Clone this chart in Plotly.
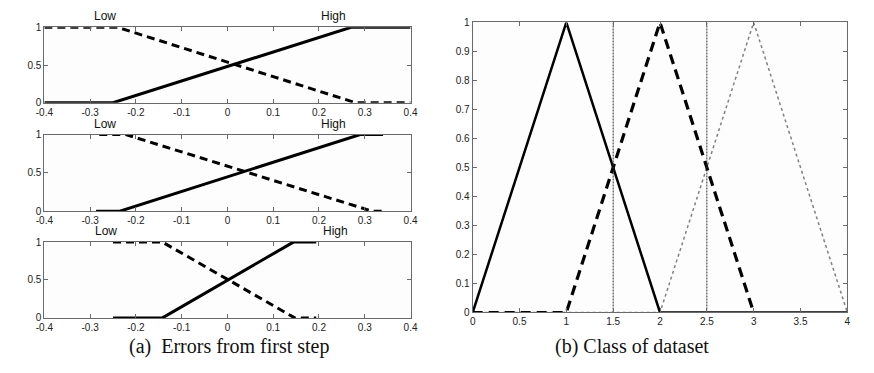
import plotly.graph_objects as go

# ---- (a) membership functions of the first-step errors (three variants) ----
p1_low_x = [-0.4, -0.24, 0.28, 0.4]
p1_low_y = [1, 1, 0, 0]
p1_high_x = [-0.4, -0.25, 0.27, 0.4]
p1_high_y = [0, 0, 1, 1]

p2_low_x = [-0.28, -0.222, 0.316, 0.34]
p2_low_y = [1, 1, 0, 0]
p2_high_x = [-0.287, -0.235, 0.29, 0.34]
p2_high_y = [0, 0, 1, 1]

p3_low_x = [-0.25, -0.142, 0.147, 0.194]
p3_low_y = [1, 1, 0, 0]
p3_high_x = [-0.25, -0.142, 0.144, 0.194]
p3_high_y = [0, 0, 1, 1]

err_ticks = [-0.4, -0.3, -0.2, -0.1, 0, 0.1, 0.2, 0.3, 0.4]
err_ticklabels = ["-0.4", "-0.3", "-0.2", "-0.1", "0", "0.1", "0.2", "0.3", "0.4"]
mf_ticks = [0, 0.5, 1]
mf_ticklabels = ["0", "0.5", "1"]
label_low_x = [-0.268, -0.268, -0.265]
label_high_x = [0.231, 0.231, 0.235]

# ---- (b) class membership functions ----
c1_x = [0, 1, 2, 4]
c1_y = [0, 1, 0, 0]
c2_x = [0, 1, 2, 3]
c2_y = [0, 0, 1, 0]
c3_x = [0, 2, 3, 4]
c3_y = [0, 0, 1, 0]
class_bounds = [1.5, 2.5]
class_ticks = [0, 0.5, 1, 1.5, 2, 2.5, 3, 3.5, 4]
class_ticklabels = ["0", "0.5", "1", "1.5", "2", "2.5", "3", "3.5", "4"]
deg_ticks = [0, 0.1, 0.2, 0.3, 0.4, 0.5, 0.6, 0.7, 0.8, 0.9, 1]
deg_ticklabels = ["0", "0.1", "0.2", "0.3", "0.4", "0.5", "0.6", "0.7", "0.8", "0.9", "1"]

AXIS_COLOR = "#6a6a6a"
TICK_FONT = dict(family="Liberation Sans, Arial, sans-serif", size=10, color="#222")

fig = go.Figure()

left_sets = [
    (p1_low_x, p1_low_y, p1_high_x, p1_high_y),
    (p2_low_x, p2_low_y, p2_high_x, p2_high_y),
    (p3_low_x, p3_low_y, p3_high_x, p3_high_y),
]
left_domains = [(0.732, 0.941), (0.4316, 0.644), (0.136, 0.346)]

for i, (lx, ly, hx, hy) in enumerate(left_sets):
    n = "" if i == 0 else str(i + 1)
    fig.add_trace(go.Scatter(x=lx, y=ly, mode="lines", xaxis="x" + n, yaxis="y" + n,
                             line=dict(color="black", width=3, dash="8px,5px"),
                             showlegend=False, hoverinfo="skip"))
    fig.add_trace(go.Scatter(x=hx, y=hy, mode="lines", xaxis="x" + n, yaxis="y" + n,
                             line=dict(color="black", width=3),
                             showlegend=False, hoverinfo="skip"))

# right panel traces
fig.add_trace(go.Scatter(x=c3_x, y=c3_y, mode="lines", xaxis="x4", yaxis="y4",
                         line=dict(color="#808080", width=1.5, dash="dot"),
                         showlegend=False, hoverinfo="skip"))
fig.add_trace(go.Scatter(x=c2_x, y=c2_y, mode="lines", xaxis="x4", yaxis="y4",
                         line=dict(color="black", width=3.2, dash="10px,6px"),
                         showlegend=False, hoverinfo="skip"))
fig.add_trace(go.Scatter(x=c1_x, y=c1_y, mode="lines", xaxis="x4", yaxis="y4",
                         line=dict(color="black", width=2.5),
                         showlegend=False, hoverinfo="skip"))
for b in class_bounds:
    fig.add_trace(go.Scatter(x=[b, b], y=[0, 1], mode="lines", xaxis="x4", yaxis="y4",
                             line=dict(color="#333", width=1, dash="2px,1px"),
                             showlegend=False, hoverinfo="skip"))


def axis_style(**kw):
    base = dict(showgrid=False, zeroline=False, showline=True, linecolor=AXIS_COLOR,
                linewidth=1, mirror="ticks", ticks="inside", ticklen=4,
                tickcolor=AXIS_COLOR, tickfont=TICK_FONT, tickmode="array")
    base.update(kw)
    return base


layout = dict(
    width=874, height=373, autosize=False,
    margin=dict(l=0, r=0, t=0, b=0),
    paper_bgcolor="white", plot_bgcolor="#fdfdfd",
    showlegend=False,
)
for i, (y0, y1) in enumerate(left_domains):
    n = "" if i == 0 else str(i + 1)
    layout["xaxis" + n] = axis_style(domain=[0.0412, 0.468], range=[-0.4, 0.4],
                                     tickvals=err_ticks, ticktext=err_ticklabels,
                                     anchor="y" + n)
    layout["yaxis" + n] = axis_style(domain=[y0, y1], range=[0, 1],
                                     tickvals=mf_ticks, ticktext=mf_ticklabels,
                                     anchor="x" + n)
layout["xaxis4"] = axis_style(domain=[0.5404, 0.9771], range=[0, 4],
                              tickvals=class_ticks, ticktext=class_ticklabels, anchor="y4")
layout["yaxis4"] = axis_style(domain=[0.151, 0.9544], range=[0, 1],
                              tickvals=deg_ticks, ticktext=deg_ticklabels, anchor="x4")
fig.update_layout(**layout)

label_font = dict(family="Liberation Sans, Arial, sans-serif", size=12, color="#111")
for i in range(3):
    n = "" if i == 0 else str(i + 1)
    fig.add_annotation(x=label_low_x[i], y=1, xref="x" + n, yref="y" + n, text="Low",
                       showarrow=False, yshift=11, xanchor="center", yanchor="middle",
                       font=label_font)
    fig.add_annotation(x=label_high_x[i], y=1, xref="x" + n, yref="y" + n, text="High",
                       showarrow=False, yshift=11, xanchor="center", yanchor="middle",
                       font=label_font)

cap_font = dict(family="Liberation Serif, Times New Roman, serif", size=20, color="#111")
fig.add_annotation(x=0.257, y=0.056, xref="paper", yref="paper",
                   text="(a)&nbsp; Errors from first step", showarrow=False,
                   xanchor="center", yanchor="middle", font=cap_font)
fig.add_annotation(x=0.7265, y=0.056, xref="paper", yref="paper",
                   text="(b) Class of dataset", showarrow=False,
                   xanchor="center", yanchor="middle", font=cap_font)

fig.write_html("out.html")
